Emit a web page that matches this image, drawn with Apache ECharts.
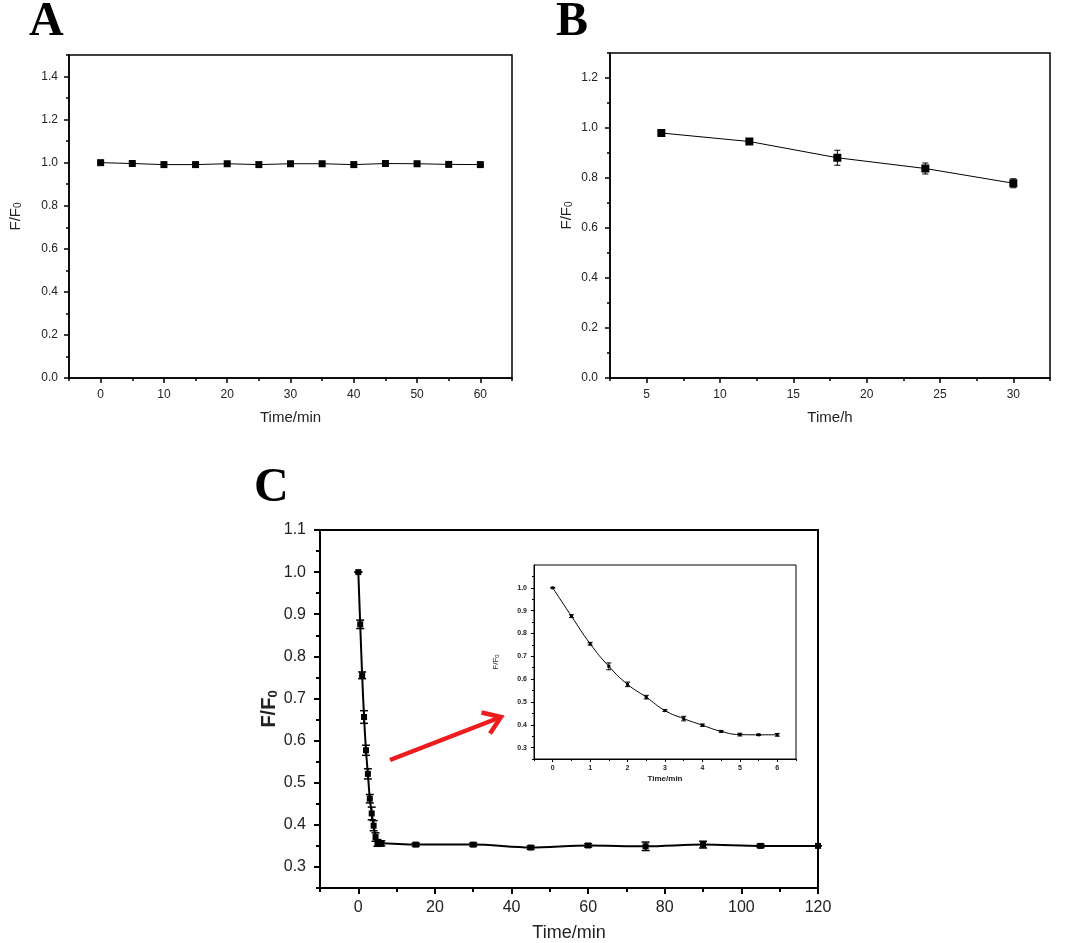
<!DOCTYPE html>
<html><head><meta charset="utf-8">
<script src="https://cdn.jsdelivr.net/npm/echarts@6/dist/echarts.min.js"></script>
<style>html,body{margin:0;padding:0;background:#fff}#c{width:1065px;height:943px}</style>
</head><body><div id="c"></div>
<script>
// ---------- data ----------
const timeA = [0, 5, 10, 15, 20, 25, 30, 35, 40, 45, 50, 55, 60];
const valA  = [1.000, 0.996, 0.991, 0.991, 0.995, 0.991, 0.995, 0.995, 0.991, 0.996, 0.995, 0.992, 0.991];
const errA  = [0.003, 0.003, 0.003, 0.003, 0.003, 0.003, 0.003, 0.003, 0.003, 0.003, 0.003, 0.003, 0.003];

const timeB = [6, 12, 18, 24, 30];
const valB  = [0.980, 0.946, 0.881, 0.838, 0.779];
const errB  = [0.010, 0.008, 0.030, 0.022, 0.018];

const timeC = [0, 0.5, 1, 1.5, 2, 2.5, 3, 3.5, 4, 4.5, 5, 5.5, 6, 15, 30, 45, 60, 75, 90, 105, 120];
const valC  = [1.000, 0.876, 0.755, 0.656, 0.577, 0.521, 0.462, 0.427, 0.398, 0.371, 0.357, 0.356, 0.356, 0.353, 0.353, 0.346, 0.351, 0.349, 0.353, 0.350, 0.350];
const errC  = [0.000, 0.010, 0.008, 0.015, 0.012, 0.012, 0.010, 0.015, 0.012, 0.010, 0.008, 0.006, 0.006, 0.004, 0.004, 0.004, 0.004, 0.010, 0.008, 0.004, 0.000];

const timeInset = [0, 0.5, 1, 1.5, 2, 2.5, 3, 3.5, 4, 4.5, 5, 5.5, 6];
const valInset  = [1.000, 0.876, 0.755, 0.656, 0.577, 0.521, 0.462, 0.427, 0.398, 0.371, 0.357, 0.356, 0.356];
const errInset  = [0.000, 0.006, 0.006, 0.015, 0.010, 0.008, 0.004, 0.010, 0.005, 0.004, 0.006, 0.003, 0.006];

// tick values
const ticksAx = [0, 10, 20, 30, 40, 50, 60];
const minorAx = [-5, 5, 15, 25, 35, 45, 55, 65];
const ticksAy = [0, 0.2, 0.4, 0.6, 0.8, 1.0, 1.2, 1.4];
const minorAy = [0.1, 0.3, 0.5, 0.7, 0.9, 1.1, 1.3, 1.5];
const ticksBx = [5, 10, 15, 20, 25, 30];
const minorBx = [2.5, 7.5, 12.5, 17.5, 22.5, 27.5, 32.5];
const ticksBy = [0, 0.2, 0.4, 0.6, 0.8, 1.0, 1.2];
const minorBy = [0.1, 0.3, 0.5, 0.7, 0.9, 1.1, 1.3];
const ticksCx = [0, 20, 40, 60, 80, 100, 120];
const minorCx = [-10, 10, 30, 50, 70, 90, 110];
const ticksCy = [0.3, 0.4, 0.5, 0.6, 0.7, 0.8, 0.9, 1.0, 1.1];
const minorCy = [0.25, 0.35, 0.45, 0.55, 0.65, 0.75, 0.85, 0.95, 1.05];
const ticksIx = [0, 1, 2, 3, 4, 5, 6];
const minorIx = [-0.5, 0.5, 1.5, 2.5, 3.5, 4.5, 5.5, 6.5];
const ticksIy = [0.3, 0.4, 0.5, 0.6, 0.7, 0.8, 0.9, 1.0];
const minorIy = [0.25, 0.35, 0.45, 0.55, 0.65, 0.75, 0.85, 0.95, 1.05];

// ---------- helpers ----------
const FONT = '"Liberation Sans", Arial, sans-serif';
const xAxes = [], yAxes = [];

function addX(gi, min, max, major, minor, c) {
  xAxes.push({
    type: 'value', gridIndex: gi, min: min, max: max, position: 'bottom',
    axisLine: { show: true, onZero: false, lineStyle: { color: '#000', width: c.lw } },
    axisTick: { show: true, inside: false, length: c.tl, customValues: major, lineStyle: { color: '#000', width: c.lw } },
    axisLabel: { customValues: major, margin: c.margin, fontSize: c.fs, fontFamily: FONT, color: '#222', fontWeight: c.fw || 'normal',
      formatter: v => String(Math.round(v * 100) / 100) },
    splitLine: { show: false },
    name: c.name, nameLocation: 'middle', nameGap: c.gap,
    nameTextStyle: { fontSize: c.nfs, fontFamily: FONT, color: '#222', fontWeight: c.fw || 'normal' }
  });
  xAxes.push({
    type: 'value', gridIndex: gi, min: min, max: max, position: 'bottom',
    axisLine: { show: false, onZero: false },
    axisTick: { show: true, inside: false, length: c.ml, customValues: minor, lineStyle: { color: '#000', width: c.lw } },
    axisLabel: { show: false }, splitLine: { show: false }
  });
}
function addY(gi, min, max, major, minor, c) {
  yAxes.push({
    type: 'value', gridIndex: gi, min: min, max: max, position: 'left',
    axisLine: { show: true, onZero: false, lineStyle: { color: '#000', width: c.lw } },
    axisTick: { show: true, inside: false, length: c.tl, customValues: major, lineStyle: { color: '#000', width: c.lw } },
    axisLabel: { customValues: major, margin: c.margin, fontSize: c.fs, fontFamily: FONT, color: '#222', fontWeight: c.fw || 'normal',
      formatter: v => v.toFixed(1) },
    splitLine: { show: false },
    name: '{a|F/F}{b|0}', nameLocation: 'middle', nameGap: c.gap,
    nameTextStyle: { fontFamily: FONT, color: '#222',
      rich: {
        a: { fontSize: c.nfs, lineHeight: c.nfs, verticalAlign: 'top', fontFamily: FONT, color: '#222', fontWeight: c.nfw || 'normal' },
        b: { fontSize: c.sfs, lineHeight: c.sfs, padding: [c.sub, 0, 0, 0], verticalAlign: 'bottom', fontFamily: FONT, color: '#222', fontWeight: c.nfw || 'normal' }
      } }
  });
  yAxes.push({
    type: 'value', gridIndex: gi, min: min, max: max, position: 'left',
    axisLine: { show: false, onZero: false },
    axisTick: { show: true, inside: false, length: c.ml, customValues: minor, lineStyle: { color: '#000', width: c.lw } },
    axisLabel: { show: false }, splitLine: { show: false }
  });
}

function lineSeries(ai, xs, ys, c) {
  return {
    type: 'line', xAxisIndex: 2 * ai, yAxisIndex: 2 * ai, z: 3,
    data: xs.map((x, i) => [x, ys[i]]),
    symbol: 'rect', symbolSize: c.ss, smooth: c.smooth || false,
    lineStyle: { color: '#000', width: c.lw }, itemStyle: { color: '#000' },
    silent: true, animation: false
  };
}
function errSeries(ai, xs, ys, es, c) {
  return {
    type: 'custom', xAxisIndex: 2 * ai, yAxisIndex: 2 * ai, z: 4,
    data: xs.map((x, i) => [x, ys[i] - es[i], ys[i] + es[i]]),
    renderItem: function (params, api) {
      const x = api.value(0);
      const lo = api.coord([x, api.value(1)]);
      const hi = api.coord([x, api.value(2)]);
      const w = c.cap;
      const st = { stroke: '#000', lineWidth: c.lw };
      return { type: 'group', children: [
        { type: 'line', shape: { x1: lo[0], y1: lo[1], x2: hi[0], y2: hi[1] }, style: st },
        { type: 'line', shape: { x1: lo[0] - w, y1: lo[1], x2: lo[0] + w, y2: lo[1] }, style: st },
        { type: 'line', shape: { x1: hi[0] - w, y1: hi[1], x2: hi[0] + w, y2: hi[1] }, style: st }
      ] };
    },
    silent: true, animation: false
  };
}

// ---------- axes ----------
// A
addX(0, -5, 65, ticksAx, minorAx, { lw: 1.5, tl: 5, ml: 3, margin: 11, fs: 12, name: 'Time/min', gap: 32, nfs: 15 });
addY(0, 0, 1.5, ticksAy, minorAy, { lw: 1.5, tl: 5, ml: 3, margin: 11, fs: 12, gap: 46, nfs: 15, sfs: 10, sub: 9 });
// B
addX(1, 2.5, 32.5, ticksBx, minorBx, { lw: 1.5, tl: 5, ml: 3, margin: 11, fs: 12, name: 'Time/h', gap: 32, nfs: 15 });
addY(1, 0, 1.3, ticksBy, minorBy, { lw: 1.5, tl: 5, ml: 3, margin: 12, fs: 12, gap: 36, nfs: 15, sfs: 10, sub: 9 });
// C
addX(2, -10, 120, ticksCx, minorCx, { lw: 2, tl: 6, ml: 4, margin: 12, fs: 16, name: 'Time/min', gap: 36, nfs: 18 });
addY(2, 0.25, 1.1, ticksCy, minorCy, { lw: 2, tl: 6, ml: 4, margin: 14, fs: 16, gap: 36, nfs: 20, sfs: 13, sub: 11, nfw: 'bold' });
// inset
addX(3, -0.5, 6.5, ticksIx, minorIx, { lw: 1, tl: 3, ml: 2, margin: 6, fs: 7, fw: 'bold', name: 'Time/min', gap: 16, nfs: 8 });
addY(3, 0.25, 1.1, ticksIy, minorIy, { lw: 1, tl: 3, ml: 2, margin: 7, fs: 7, fw: 'bold', gap: 34, nfs: 8, sfs: 6, sub: 4 });

const grids = [
  { left: 69, top: 55, width: 443, height: 323 },
  { left: 610, top: 53, width: 440, height: 325 },
  { left: 320, top: 530, width: 498, height: 359 },
  { left: 534, top: 565, width: 262, height: 194 }
].map((g, i) => Object.assign({ show: true, backgroundColor: '#fff', borderColor: '#000', borderWidth: i === 2 ? 2 : (i === 3 ? 1 : 1.5), containLabel: false }, g));

const series = [
  lineSeries(0, timeA, valA, { ss: 7, lw: 1 }),
  errSeries(0, timeA, valA, errA, { cap: 3, lw: 1 }),
  lineSeries(1, timeB, valB, { ss: 8, lw: 1 }),
  errSeries(1, timeB, valB, errB, { cap: 3, lw: 1 }),
  lineSeries(2, timeC, valC, { ss: 6, lw: 2, smooth: 0.3 }),
  errSeries(2, timeC, valC, errC, { cap: 4, lw: 1.5 }),
  lineSeries(3, timeInset, valInset, { ss: 3, lw: 1, smooth: 0.5 }),
  errSeries(3, timeInset, valInset, errInset, { cap: 2.5, lw: 1 })
];

// red arrow annotation + panel letters
const arrowTail = [390, 760], arrowHead = [501, 717];
const LETTER_FONT = 'bold 48px "Liberation Serif", "Times New Roman", serif';
const graphic = [
  { type: 'polyline', shape: { points: [arrowTail, arrowHead] }, style: { stroke: '#ee1c1c', lineWidth: 4.5, fill: null }, z: 10 },
  { type: 'polyline', shape: { points: [[481.5, 712.5], arrowHead, [490, 733.5]] }, style: { stroke: '#ee1c1c', lineWidth: 4.5, fill: null, lineJoin: 'miter' }, z: 10 },
  { type: 'text', x: 29, y: -1, style: { text: 'A', font: LETTER_FONT, fill: '#000' }, z: 10 },
  { type: 'text', x: 556, y: -1, style: { text: 'B', font: LETTER_FONT, fill: '#000' }, z: 10 },
  { type: 'text', x: 254, y: 465, style: { text: 'C', font: LETTER_FONT, fill: '#000' }, z: 10 }
];

const chart = echarts.init(document.getElementById('c'), null, { renderer: 'canvas' });
chart.setOption({
  animation: false,
  backgroundColor: '#fff',
  grid: grids,
  xAxis: xAxes,
  yAxis: yAxes,
  series: series,
  graphic: graphic
});
</script>
</body></html>
